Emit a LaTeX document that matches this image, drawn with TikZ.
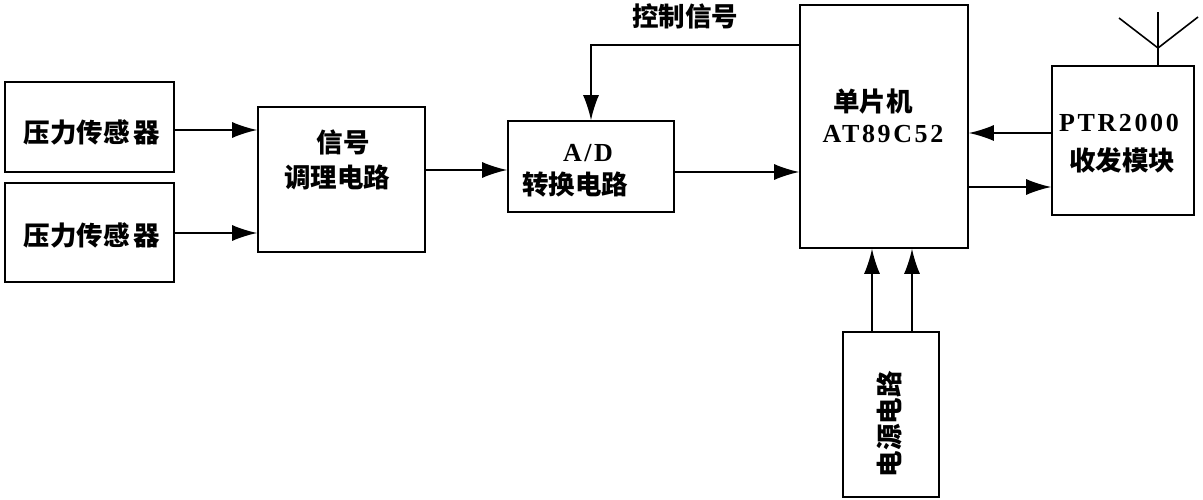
\documentclass[tikz,border=0pt]{standalone}
\usepackage{fontspec}
\newfontfamily\cjk{Noto Sans CJK SC}
\newfontfamily\lat[LetterSpace=10]{Liberation Serif}
\usetikzlibrary{arrows.meta}
\begin{document}
\begin{tikzpicture}[x=1pt,y=-1pt,
  blk/.style={draw,line width=1.6pt,inner sep=0pt,minimum width=#1},
  txt/.style={inner sep=0pt,font=\cjk\bfseries\fontsize{26.5}{28}\selectfont},
  ltxt/.style={inner sep=0pt,font=\lat\bfseries\fontsize{26}{28}\selectfont},
  arr/.style={line width=1.6pt,-{Latex[length=25pt,width=16pt]}},
  ln/.style={line width=1.6pt}]
\useasboundingbox (0,0) rectangle (1203,500);
% boxes
\node[blk=169pt,minimum height=90pt] (s1) at (89.5,127) {};
\node[blk=169pt,minimum height=99pt] (s2) at (89.5,232.5) {};
\node[blk=167pt,minimum height=145pt] (sig) at (341.5,179.5) {};
\node[blk=166pt,minimum height=91pt] (ad) at (591,166.5) {};
\node[blk=168pt,minimum height=243pt] (mcu) at (884,126.5) {};
\node[blk=142pt,minimum height=149pt] (ptr) at (1123,140.5) {};
\node[blk=96pt,minimum height=165pt] (pwr) at (891,414.5) {};
% texts
\node[txt] (t1) at (92,132) {压力传感\hspace{4pt}器};
\node[txt] (t2) at (92,235) {压力传感\hspace{4pt}器};
\node[txt] (t3) at (343,142) {信号};
\node[txt] (t4) at (337,177) {调理电路};
\node[ltxt] (t5) at (588,153) {A/D};
\node[txt] (t6) at (575,185) {转换电路};
\node[txt] (t7) at (873,102) {单片机};
\node[ltxt] (t8) at (883,134) {AT89C52};
\node[ltxt] (t9) at (1119,123) {PTR2000};
\node[txt] (t10) at (1122,160) {收发模块};
\node[txt,rotate=90] (t11) at (889,424) {电源电路};
\node[txt] (t12) at (685,16) {控制信号};
% connectors
\draw[arr] (s1.east |- 0,130) -- (sig.west |- 0,130);
\draw[arr] (s2.east |- 0,233) -- (sig.west |- 0,233);
\draw[arr] (sig.east |- 0,170) -- (ad.west |- 0,170);
\draw[arr] (ad.east |- 0,172) -- (mcu.west |- 0,172);
\draw[arr] (mcu.west |- 0,45) -| (ad.north);
\draw[arr] (ptr.west |- 0,133) -- (mcu.east |- 0,133);
\draw[arr] (mcu.east |- 0,187) -- (ptr.west |- 0,187);
\draw[arr] (pwr.north -| 872,0) -- (mcu.south -| 872,0);
\draw[arr] (pwr.north -| 912,0) -- (mcu.south -| 912,0);
% antenna
\coordinate (ant) at (1158,48);
\coordinate (antL) at (1119,18);
\coordinate (antR) at (1198,17);
\coordinate (antT) at (1158,12);
\draw[ln] (ptr.north -| ant) -- (antT);
\draw[ln] (antL) -- (ant) -- (antR);
\end{tikzpicture}
\end{document}
